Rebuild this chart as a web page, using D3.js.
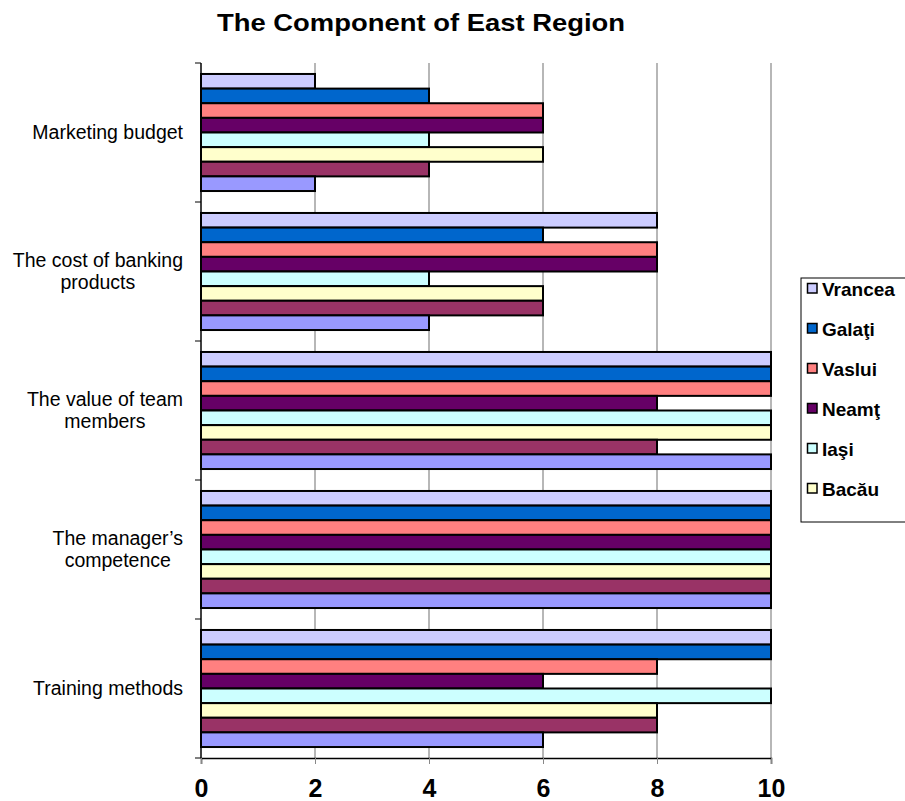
<!DOCTYPE html>
<html lang="en">
<head>
    <meta charset="UTF-8">
    <title>The Component of East Region</title>
    <script src="https://d3js.org/d3.v7.min.js"></script>
    <style>
        body {
            margin: 0;
            background: #fff;
            font-family: Arial, 'Liberation Sans', sans-serif;
        }
        .catLabel {
            font-size: 19.5px;
            fill: #000;
        }
        .xtick text {
            font-size: 25px;
            font-weight: bold;
        }
        .legend text {
            font-size: 19px;
            font-weight: bold;
        }
    </style>
</head>
<body>
    <div id="chart"></div>

    <script>
        // categories, top to bottom
        const categories = [
            "Marketing budget",
            "The cost of banking products",
            "The value of team members",
            "The manager\u2019s competence",
            "Training methods"
        ];

        // series, drawn top to bottom inside each group
        const seriesNames = ["Vrancea", "Gala\u0163i", "Vaslui", "Neam\u0163", "Ia\u015Fi", "Bac\u0103u", "Boto\u015Fani", "Suceava"];
        const seriesColors = ["#CCCCFF", "#0066CC", "#FF8080", "#660066", "#CCFFFF", "#FFFFCC", "#993366", "#9999FF"];

        // one array per series, in category order
        const vrancea  = [2, 8, 10, 10, 10];
        const galati   = [4, 6, 10, 10, 10];
        const vaslui   = [6, 8, 10, 10, 8];
        const neamt    = [6, 8, 8, 10, 6];
        const iasi     = [4, 4, 10, 10, 10];
        const bacau    = [6, 6, 10, 10, 8];
        const botosani = [4, 6, 8, 10, 8];
        const suceava  = [2, 4, 10, 10, 6];

        const seriesValues = [vrancea, galati, vaslui, neamt, iasi, bacau, botosani, suceava];
        const xTicks = [0, 2, 4, 6, 8, 10];
        const legendCount = 6; // legend box is clipped in the original, only 6 shown

        const W = 905, H = 801;
        const plot = { left: 201, right: 771, top: 63, bottom: 758 };

        const svg = d3.select("#chart").append("svg")
            .attr("width", W)
            .attr("height", H);

        // title
        svg.append("text")
            .attr("x", 421)
            .attr("y", 31)
            .attr("text-anchor", "middle")
            .attr("textLength", 408)
            .attr("lengthAdjust", "spacingAndGlyphs")
            .style("font-size", "24px")
            .style("font-weight", "bold")
            .text("The Component of East Region");

        const x = d3.scaleLinear()
            .domain([0, 10])
            .range([plot.left, plot.right]);

        const y = d3.scaleBand()
            .domain(categories)
            .range([plot.top, plot.bottom]);

        // Excel style gap: group takes 8/(8+1.5) of the band
        const gapRatio = 1.5 / (8 + 1.5);
        const yInner = d3.scaleBand()
            .domain(d3.range(seriesNames.length))
            .range([y.bandwidth() * gapRatio / 2, y.bandwidth() * (1 - gapRatio / 2)]);

        // vertical gridlines
        svg.append("g")
            .selectAll("line")
            .data(xTicks.slice(1))
            .join("line")
            .attr("x1", d => x(d))
            .attr("x2", d => x(d))
            .attr("y1", plot.top)
            .attr("y2", plot.bottom)
            .attr("stroke", "#999")
            .attr("stroke-width", 1.4);

        // bars
        const table = [];
        categories.forEach((c, ci) => {
            seriesNames.forEach((s, si) => {
                table.push({ cat: c, si: si, value: seriesValues[si][ci] });
            });
        });

        svg.append("g")
            .selectAll("rect")
            .data(table)
            .join("rect")
            .attr("x", x(0))
            .attr("y", d => y(d.cat) + yInner(d.si))
            .attr("width", d => x(d.value) - x(0))
            .attr("height", yInner.bandwidth())
            .attr("fill", d => seriesColors[d.si])
            .attr("stroke", "#000")
            .attr("stroke-width", 2);

        // left axis line and ticks on category boundaries
        svg.append("line")
            .attr("x1", plot.left).attr("x2", plot.left)
            .attr("y1", plot.top).attr("y2", plot.bottom)
            .attr("stroke", "#000").attr("stroke-width", 1.5);

        const bounds = categories.map(c => y(c)).concat([plot.bottom]);
        svg.append("g")
            .selectAll("line")
            .data(bounds)
            .join("line")
            .attr("x1", plot.left - 6)
            .attr("x2", plot.left)
            .attr("y1", d => d)
            .attr("y2", d => d)
            .attr("stroke", "#000");

        // bottom axis
        const xAxis = svg.append("g")
            .attr("class", "xtick")
            .attr("transform", `translate(0,${plot.bottom})`)
            .call(d3.axisBottom(x).tickValues(xTicks).tickSize(6));
        xAxis.select(".domain").attr("stroke", "#000").attr("stroke-width", 1.5);
        xAxis.selectAll(".tick line").attr("stroke", "#888");
        xAxis.selectAll(".tick text")
            .attr("fill", "#000")
            .attr("y", 39)
            .attr("dy", null)
            .style("font-family", "Arial, 'Liberation Sans', sans-serif");

        // category labels, wrapped and centered, right edge near the axis
        const wrapWidth = 176;
        const labelRight = 183;
        categories.forEach(c => {
            const t = svg.append("text").attr("class", "catLabel");
            const words = c.split(" ");
            const lines = [];
            let line = [];
            words.forEach(w => {
                line.push(w);
                t.text(line.join(" "));
                if (t.node().getComputedTextLength() > wrapWidth && line.length > 1) {
                    line.pop();
                    lines.push(line.join(" "));
                    line = [w];
                }
            });
            lines.push(line.join(" "));
            t.text(null);
            let maxW = 0;
            lines.forEach(l => {
                t.text(l);
                maxW = Math.max(maxW, t.node().getComputedTextLength());
            });
            t.text(null);
            const cx = labelRight - maxW / 2;
            const lh = 22;
            const cy = y(c) + y.bandwidth() / 2 - (lines.length - 1) * lh / 2 + 6;
            lines.forEach((l, i) => {
                t.append("tspan")
                    .attr("x", cx)
                    .attr("y", cy + i * lh)
                    .attr("text-anchor", "middle")
                    .text(l);
            });
        });

        // legend
        const legend = svg.append("g")
            .attr("class", "legend")
            .attr("transform", "translate(801,278)");

        legend.append("rect")
            .attr("x", 0).attr("y", 0)
            .attr("width", 120).attr("height", 244)
            .attr("fill", "#fff")
            .attr("stroke", "#000")
            .attr("stroke-width", 1);

        const items = legend.selectAll(".item")
            .data(seriesNames.slice(0, legendCount))
            .join("g")
            .attr("class", "item")
            .attr("transform", (d, i) => `translate(0,${11 + i * 40})`);

        items.append("rect")
            .attr("x", 6.5).attr("y", -5.5)
            .attr("width", 9.5).attr("height", 9.5)
            .attr("fill", (d, i) => seriesColors[i])
            .attr("stroke", "#000")
            .attr("stroke-width", 1.5);

        items.append("text")
            .attr("x", 21)
            .attr("y", 6.5)
            .text(d => d);
    </script>
</body>
</html>
